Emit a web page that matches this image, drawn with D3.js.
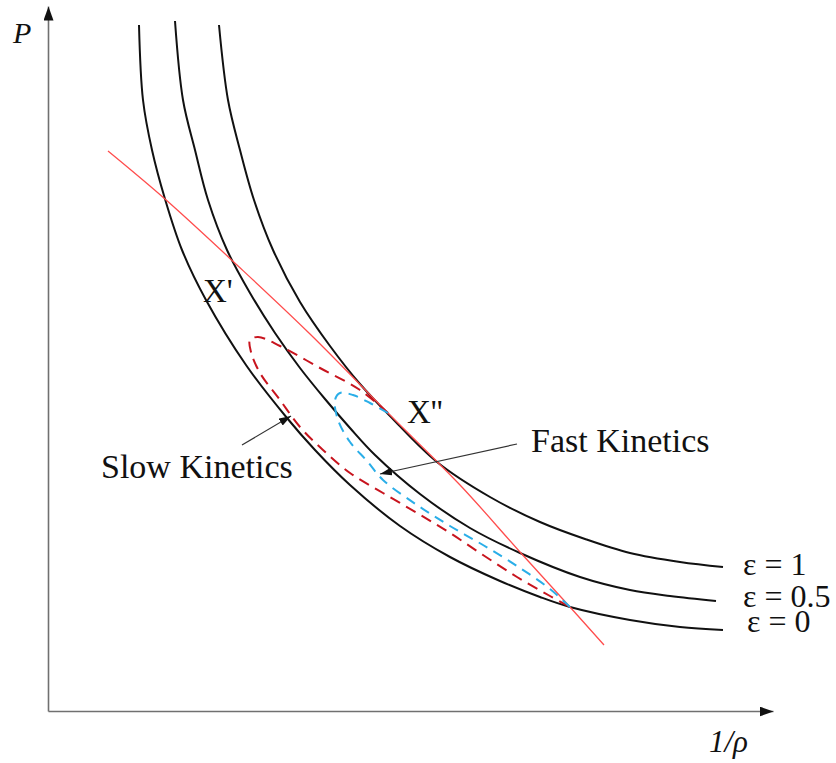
<!DOCTYPE html>
<html>
<head>
<meta charset="utf-8">
<script src="https://cdn.jsdelivr.net/npm/d3@7"></script>
<style>
  body { margin: 0; background: #fff; }
  text { font-family: "Liberation Serif", "Times New Roman", serif; fill: #111; }
</style>
</head>
<body>
<div id="chart"></div>
<script>
// values, in arbitrary units of 1/rho and P
var eps0 = [[9.1,68.6],[9.5,61.1],[10.4,56.1],[11.7,51.2],[13.4,46.1],[15.8,41.1],[19.8,34.6],[23.9,29.3],
    [26.7,26.1],[30.2,22.6],[35.2,18.5],[40.2,15.4],[45.2,13.0],[49.2,11.4],[52.2,10.4],[58.2,9.1],
    [63.2,8.4],[67.5,8.1]]
var eps05 = [[12.7,69.0],[13.5,61.1],[14.7,56.1],[16.0,51.1],[17.9,46.1],[20.2,41.8],[22.7,37.8],[25.2,34.3],
    [27.7,31.2],[30.2,28.3],[32.7,25.6],[37.2,21.7],[42.2,18.3],[47.2,15.8],[53.2,13.4],[58.2,12.1],
    [62.2,11.5],[66.8,11.0]]
var eps1 = [[17.1,68.6],[18.0,61.1],[19.2,56.1],[20.6,51.1],[22.5,46.1],[25.2,40.9],[28.2,36.5],[31.2,32.7],
    [34.2,29.5],[38.9,24.9],[44.2,21.4],[49.2,18.9],[53.7,17.2],[58.2,15.8],[63.2,14.9],[67.5,14.4]]
var rayleigh = [[6.0,56.0],[11.7,51.2],[18.9,44.6],[26.2,37.7],[34.2,29.6],[41.2,22.6],[47.2,15.9],
    [52.2,10.4],[55.6,6.6]]
var slowPath = [[34.0,29.8],[31.2,32.1],[27.2,34.3],[23.2,36.5],[21.0,37.4],[20.2,37.1],[20.3,35.9],[21.2,33.8],
    [23.2,31.1],[25.2,28.4],[27.5,26.1],[30.2,23.8],[33.5,21.8],[36.9,19.8],[40.2,17.8],[43.5,15.6],
    [46.9,13.4],[50.2,11.5],[52.2,10.4]]
var fastPath = [[34.0,29.8],[32.2,30.8],[30.5,31.6],[29.2,31.8],[28.7,31.1],[29.0,29.1],[30.2,26.9],[31.9,25.0],
    [33.5,23.1],[36.9,20.6],[40.2,18.5],[43.5,16.6],[46.9,14.5],[50.2,12.2],[52.2,10.4]]
var curveLabels = ["ε = 1", "ε = 0.5", "ε = 0"]

var width = 836, height = 763

var svg = d3.select("#chart").append("svg")
    .attr("width", width)
    .attr("height", height)

var x = d3.scaleLinear().domain([0, 72.5]).range([48, 773])
var y = d3.scaleLinear().domain([0, 70.5]).range([711, 6])

var defs = svg.append("defs")
defs.append("marker")
    .attr("id", "axisArrow")
    .attr("viewBox", "0 0 14 10")
    .attr("refX", 14).attr("refY", 5)
    .attr("markerWidth", 14).attr("markerHeight", 10)
    .attr("markerUnits", "userSpaceOnUse")
    .attr("orient", "auto")
    .append("path").attr("d", "M0,0L14,5L0,10Z").attr("fill", "#111")
defs.append("marker")
    .attr("id", "noteArrow")
    .attr("viewBox", "0 0 12 8")
    .attr("refX", 12).attr("refY", 4)
    .attr("markerWidth", 12).attr("markerHeight", 8)
    .attr("markerUnits", "userSpaceOnUse")
    .attr("orient", "auto")
    .append("path").attr("d", "M0,0L12,4L0,8Z").attr("fill", "#111")

// axes, no ticks
svg.append("g")
    .attr("transform", "translate(0," + y(0) + ")")
    .call(d3.axisBottom(x).tickValues([]).tickSizeOuter(0))
svg.append("g")
    .attr("transform", "translate(" + x(0) + ",0)")
    .call(d3.axisLeft(y).tickValues([]).tickSizeOuter(0))
svg.selectAll(".domain")
    .attr("stroke", "#707070")
    .attr("stroke-width", 1.6)
    .attr("marker-end", "url(#axisArrow)")

svg.append("text").attr("x", 13).attr("y", 43)
    .style("font-size", "30px").style("font-style", "italic").text("P")
svg.append("text").attr("x", 709).attr("y", 752)
    .style("font-size", "31px").style("font-style", "italic").text("1/ρ")

var line = d3.line()
    .x(function (d) { return x(d[0]) })
    .y(function (d) { return y(d[1]) })
    .curve(d3.curveCatmullRom.alpha(0.5))

var curves = [eps1, eps05, eps0]
svg.selectAll(".isentrope")
    .data(curves)
    .enter()
    .append("path")
    .attr("class", "isentrope")
    .attr("d", line)
    .attr("fill", "none")
    .attr("stroke", "#111")
    .attr("stroke-width", 2)

// labels at the right end of each curve
var labelOffset = [[20, 8], [27, 6], [24, 2]]
svg.selectAll(".curveLabel")
    .data(curves)
    .enter()
    .append("text")
    .attr("class", "curveLabel")
    .attr("x", function (d, i) { return x(d[d.length - 1][0]) + labelOffset[i][0] })
    .attr("y", function (d, i) { return y(d[d.length - 1][1]) + labelOffset[i][1] })
    .style("font-size", "32px")
    .text(function (d, i) { return curveLabels[i] })

svg.append("path")
    .attr("d", line(rayleigh))
    .attr("fill", "none")
    .attr("stroke", "#ff4d4d")
    .attr("stroke-width", 1.3)

svg.append("path")
    .attr("d", line(slowPath))
    .attr("fill", "none")
    .attr("stroke", "#c8141e")
    .attr("stroke-width", 2)
    .attr("stroke-dasharray", "11,7")

svg.append("path")
    .attr("d", line(fastPath))
    .attr("fill", "none")
    .attr("stroke", "#2aaee8")
    .attr("stroke-width", 2)
    .attr("stroke-dasharray", "10,7")

svg.append("text").attr("x", x(15.5)).attr("y", y(40.9))
    .style("font-size", "33px").text("X'")
svg.append("text").attr("x", x(35.9)).attr("y", y(28.8))
    .style("font-size", "33px").text("X''")

// annotation arrows
svg.append("line")
    .attr("x1", 242).attr("y1", 445).attr("x2", 291).attr("y2", 416)
    .attr("stroke", "#333").attr("stroke-width", 1.2)
    .attr("marker-end", "url(#noteArrow)")
svg.append("text").attr("x", 101).attr("y", 478)
    .style("font-size", "34px").text("Slow Kinetics")

svg.append("line")
    .attr("x1", 517).attr("y1", 444).attr("x2", 380).attr("y2", 474)
    .attr("stroke", "#333").attr("stroke-width", 1.2)
    .attr("marker-end", "url(#noteArrow)")
svg.append("text").attr("x", 531).attr("y", 452)
    .style("font-size", "34px").text("Fast Kinetics")
</script>
</body>
</html>
